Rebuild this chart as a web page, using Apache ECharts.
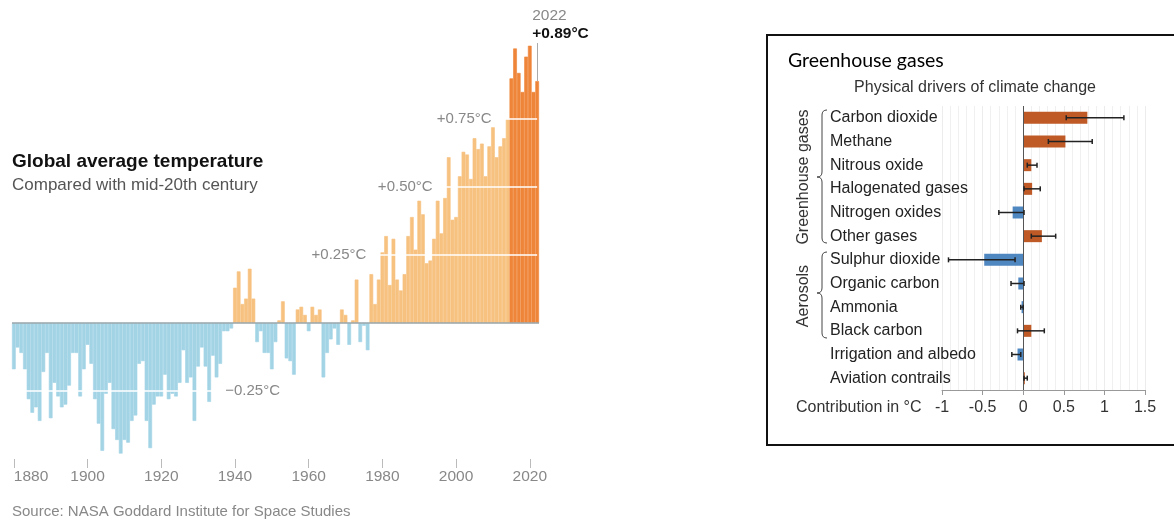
<!DOCTYPE html>
<html>
<head>
<meta charset="utf-8">
<script src="https://cdn.jsdelivr.net/npm/echarts@6/dist/echarts.min.js"></script>
<style>
html, body { margin: 0; padding: 0; background: #fff; }
#main { width: 1174px; height: 525px; }
</style>
</head>
<body>
<div id="main"></div>
<script>
// global temperature anomaly, one bar per year 1880-2022
var years = [];
for (var yr = 1880; yr <= 2022; yr++) years.push(String(yr));

var anomaly = [
  -0.17, -0.09, -0.11, -0.17, -0.28, -0.33, -0.31, -0.36, -0.18, -0.11,
  -0.35, -0.22, -0.27, -0.31, -0.30, -0.23, -0.11, -0.11, -0.27, -0.17,
  -0.08, -0.15, -0.28, -0.37, -0.47, -0.26, -0.22, -0.39, -0.43, -0.48,
  -0.43, -0.44, -0.36, -0.34, -0.15, -0.14, -0.36, -0.46, -0.30, -0.27,
  -0.27, -0.19, -0.28, -0.26, -0.27, -0.22, -0.10, -0.22, -0.20, -0.36,
  -0.16, -0.09, -0.16, -0.29, -0.12, -0.20, -0.15, -0.03, -0.03, -0.02,
   0.13,  0.19,  0.07,  0.09,  0.20,  0.09, -0.07, -0.03, -0.11, -0.11,
  -0.17, -0.07,  0.01,  0.08, -0.13, -0.14, -0.19,  0.05,  0.06,  0.03,
  -0.03,  0.06,  0.03,  0.05, -0.20, -0.11, -0.06, -0.02, -0.08,  0.05,
   0.03, -0.08,  0.01,  0.16, -0.07, -0.01, -0.10,  0.18,  0.07,  0.16,
   0.26,  0.32,  0.14,  0.31,  0.16,  0.12,  0.18,  0.32,  0.39,  0.27,
   0.45,  0.40,  0.22,  0.23,  0.31,  0.45,  0.33,  0.46,  0.61,  0.38,
   0.39,  0.54,  0.63,  0.62,  0.53,  0.68,  0.64,  0.66,  0.54,  0.65,
   0.72,  0.61,  0.65,  0.68,  0.75,  0.90,  1.01,  0.92,  0.85,  0.98,
   1.02,  0.85,  0.89
];

// physical drivers panel
var drivers = ['Carbon dioxide', 'Methane', 'Nitrous oxide', 'Halogenated gases',
  'Nitrogen oxides', 'Other gases', 'Sulphur dioxide', 'Organic carbon',
  'Ammonia', 'Black carbon', 'Irrigation and albedo', 'Aviation contrails'];
var contribution = [0.79, 0.52, 0.10, 0.11, -0.13, 0.23, -0.48, -0.06, -0.02, 0.10, -0.07, 0.02];
var errLow  = [0.53, 0.31, 0.05, 0.01, -0.30, 0.10, -0.92, -0.15, -0.03, -0.07, -0.14, 0.01];
var errHigh = [1.24, 0.85, 0.17, 0.21, 0.01, 0.40, -0.10, 0.01, 0.00, 0.26, -0.03, 0.05];

var FONT = 'Liberation Sans, Arial, sans-serif';
var chart = echarts.init(document.getElementById('main'));

var tempBars = anomaly.map(function (v, i) {
  var c = v < 0 ? '#a2d4e5' : (+years[i] >= 2015 ? '#ee8539' : '#f7c17f');
  // thin border in the same colour hides the seams between touching bars
  return { value: v, itemStyle: { color: c, borderColor: c, borderWidth: 0.6 } };
});

function every20(index, value) { return (+value) % 20 === 0; }

function whiteLine(val, from, to, text, pos) {
  return [
    { coord: [from, val],
      lineStyle: { color: '#fff', width: 1.5, type: 'solid' },
      label: { show: true, position: pos, formatter: text, color: '#888',
               fontSize: 15, fontFamily: FONT, distance: 5 } },
    { coord: [to, val] }
  ];
}

// curly brace "{" made of lines and quadratic curves
function brace(x, top, mid, bottom) {
  var st = { fill: 'none', stroke: '#444', lineWidth: 1 };
  return [
    { type: 'bezierCurve', shape: { x1: x + 5, y1: top, cpx1: x, cpy1: top, x2: x, y2: top + 5 }, style: st },
    { type: 'line', shape: { x1: x, y1: top + 5, x2: x, y2: mid - 5 }, style: st },
    { type: 'bezierCurve', shape: { x1: x, y1: mid - 5, cpx1: x, cpy1: mid, x2: x - 5, y2: mid }, style: st },
    { type: 'bezierCurve', shape: { x1: x - 5, y1: mid, cpx1: x, cpy1: mid, x2: x, y2: mid + 5 }, style: st },
    { type: 'line', shape: { x1: x, y1: mid + 5, x2: x, y2: bottom - 5 }, style: st },
    { type: 'bezierCurve', shape: { x1: x, y1: bottom - 5, cpx1: x, cpy1: bottom, x2: x + 5, y2: bottom }, style: st }
  ];
}

var graphics = [
  { type: 'text', x: 12, y: 162, style: { text: 'Global average temperature', font: 'bold 19px ' + FONT, fill: '#111', textVerticalAlign: 'middle' } },
  { type: 'text', x: 12, y: 185, style: { text: 'Compared with mid-20th century', font: '17px ' + FONT, fill: '#555', textVerticalAlign: 'middle' } },
  { type: 'text', x: 12, y: 512, style: { text: 'Source: NASA Goddard Institute for Space Studies', font: '15px ' + FONT, fill: '#888', textVerticalAlign: 'middle' } },
  { type: 'rect', shape: { x: 767, y: 35, width: 420, height: 410 }, style: { fill: 'none', stroke: '#111', lineWidth: 2 } },
  { type: 'text', x: 788, y: 61, style: { text: 'Greenhouse gases', font: '19.5px Lato, ' + FONT, fill: '#000', textVerticalAlign: 'middle' } },
  { type: 'text', x: 975, y: 88, style: { text: 'Physical drivers of climate change', font: '16px ' + FONT, fill: '#333', textAlign: 'center', textVerticalAlign: 'middle' } },
  { type: 'text', x: 796, y: 408, style: { text: 'Contribution in °C', font: '16px ' + FONT, fill: '#333', textVerticalAlign: 'middle' } },
  { type: 'text', x: 804, y: 177, rotation: Math.PI / 2, style: { text: 'Greenhouse gases', font: '16px ' + FONT, fill: '#333', textAlign: 'center', textVerticalAlign: 'middle' } },
  { type: 'text', x: 804, y: 296, rotation: Math.PI / 2, style: { text: 'Aerosols', font: '16px ' + FONT, fill: '#333', textAlign: 'center', textVerticalAlign: 'middle' } }
].concat(brace(822, 110, 177, 243), brace(822, 252, 293, 338));

option = {
  animation: false,
  textStyle: { fontFamily: FONT },
  grid: [
    { left: 12, right: 635, top: 24, bottom: 66, outerBoundsMode: 'none' },
    { left: 942, right: 29, top: 106, bottom: 135, outerBoundsMode: 'none' }
  ],
  xAxis: [
    {
      gridIndex: 0,
      type: 'category',
      data: years,
      axisLine: { show: false, onZero: false },
      axisTick: { show: true, alignWithLabel: true, interval: every20, length: 9,
                  lineStyle: { color: '#bbb' } },
      axisLabel: { interval: every20, color: '#888', fontSize: 15.5, margin: 10,
                   alignMinLabel: 'left' },
      splitLine: { show: false }
    },
    {
      gridIndex: 1,
      type: 'value',
      min: -1, max: 1.5, interval: 0.5,
      axisLine: { show: true, lineStyle: { color: '#999' } },
      axisTick: { show: true, length: 5, lineStyle: { color: '#999' } },
      axisLabel: { color: '#333', fontSize: 16, margin: 10 },
      splitLine: { show: true, lineStyle: { color: '#ececec' } },
      minorTick: { show: false, splitNumber: 5 },
      minorSplitLine: { show: true, lineStyle: { color: '#f0f0f0' } }
    }
  ],
  yAxis: [
    { gridIndex: 0, type: 'value', min: -0.5, max: 1.1, show: false },
    {
      gridIndex: 1,
      type: 'category',
      data: drivers,
      inverse: true,
      axisLine: { show: false, onZero: false },
      axisTick: { show: false },
      axisLabel: { align: 'left', margin: 112, color: '#222', fontSize: 16 },
      splitLine: { show: false }
    }
  ],
  series: [
    {
      type: 'bar',
      xAxisIndex: 0, yAxisIndex: 0,
      data: tempBars,
      barCategoryGap: '0%',
      silent: true,
      markLine: {
        silent: true,
        symbol: 'none',
        data: [
          { yAxis: 0, lineStyle: { color: '#98a6ab', width: 1.5, type: 'solid' }, label: { show: false } },
          whiteLine(0.25, '1977', '2022', '+0.25°C', 'start'),
          whiteLine(0.50, '1995', '2022', '+0.50°C', 'start'),
          whiteLine(0.75, '2011', '2022', '+0.75°C', 'start'),
          whiteLine(-0.25, '1880', '1936', '\u22120.25°C', 'end'),
          [
            { coord: ['2022', 0.89], lineStyle: { color: '#aaa', width: 1, type: 'solid' }, label: { show: false } },
            { coord: ['2022', 1.03] }
          ]
        ]
      },
      markPoint: {
        silent: true,
        symbolSize: 0,
        data: [{
          coord: ['2022', 1.03],
          label: {
            show: true, position: 'top', align: 'left', offset: [-5, 0], distance: 0,
            formatter: '{a|2022}\n{b|+0.89°C}',
            rich: {
              a: { color: '#888', fontSize: 15.5, lineHeight: 18, fontFamily: FONT },
              b: { color: '#111', fontSize: 15.5, fontWeight: 'bold', lineHeight: 18, fontFamily: FONT }
            }
          }
        }]
      }
    },
    {
      type: 'bar',
      xAxisIndex: 1, yAxisIndex: 1,
      barWidth: 12,
      silent: true,
      data: contribution.map(function (v) {
        return { value: v, itemStyle: { color: v < 0 ? '#4f87c1' : '#bf5a27' } };
      }),
      markLine: {
        silent: true,
        symbol: 'none',
        label: { show: false },
        lineStyle: { color: '#555', width: 1, type: 'solid' },
        data: [{ xAxis: 0 }]
      }
    },
    {
      type: 'custom',
      xAxisIndex: 1, yAxisIndex: 1,
      silent: true,
      z: 5,
      data: drivers.map(function (d, i) { return [i, errLow[i], errHigh[i]]; }),
      encode: { x: [1, 2], y: 0 },
      renderItem: function (params, api) {
        var idx = api.value(0);
        var p1 = api.coord([api.value(1), idx]);
        var p2 = api.coord([api.value(2), idx]);
        var h = 2.5;
        var st = { stroke: '#222', lineWidth: 1.5 };
        return {
          type: 'group',
          children: [
            { type: 'line', shape: { x1: p1[0], y1: p1[1], x2: p2[0], y2: p2[1] }, style: st },
            { type: 'line', shape: { x1: p1[0], y1: p1[1] - h, x2: p1[0], y2: p1[1] + h }, style: st },
            { type: 'line', shape: { x1: p2[0], y1: p2[1] - h, x2: p2[0], y2: p2[1] + h }, style: st }
          ]
        };
      }
    }
  ],
  graphic: graphics
};

chart.setOption(option);
</script>
</body>
</html>
